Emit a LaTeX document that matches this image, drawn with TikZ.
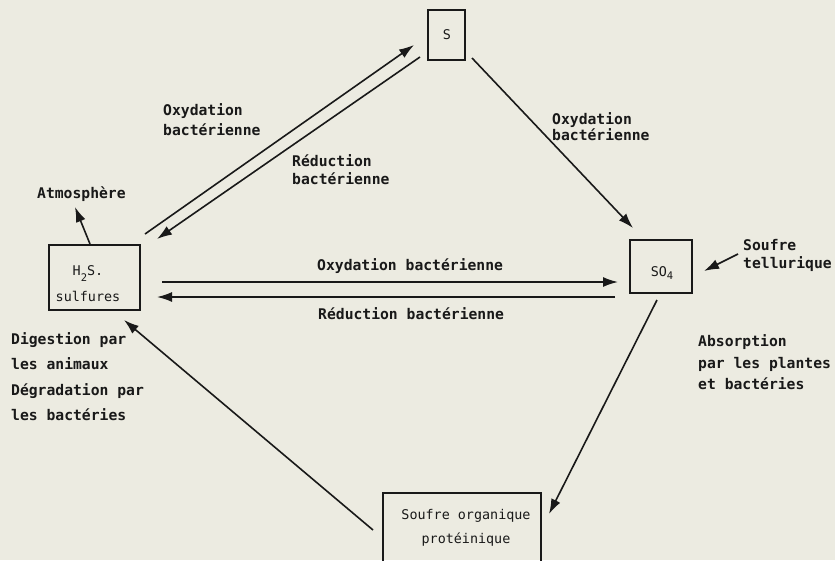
\documentclass[tikz,border=0pt]{standalone}
\usepackage{fontspec}
\usetikzlibrary{arrows.meta}
\newfontfamily\monofont{DejaVu Sans Mono}
\definecolor{paper}{RGB}{236,235,225}
\definecolor{ink}{RGB}{25,25,25}
% lowered small index (H2S, SO4)
\newcommand\lowidx[2][-5pt]{\raisebox{#1}{\fontsize{10.5}{10.5}\selectfont#2}}

\tikzset{
  box/.style={draw=ink, line width=1.9pt, inner sep=0pt},
  boxtext/.style={font=\monofont\fontsize{13.4}{26}\selectfont, text=ink,
    align=center, inner sep=0pt},
  lbl/.style={font=\monofont\bfseries\fontsize{14.7}{#1}\selectfont, text=ink,
    align=left, anchor=west, inner sep=0pt},
  lbl/.default=20,
  arr/.style={draw=ink, line width=1.6pt, -{Latex[length=15pt,width=10pt]}},
}

\begin{document}
\begin{tikzpicture}[x=1pt,y=-1pt]
  \fill[paper] (0,0) rectangle (835,560);
  \useasboundingbox (0,0) rectangle (835,560);
  \clip (0,0) rectangle (835,560);

  % compartments of the sulfur cycle
  \node[box, minimum width=37pt, minimum height=50pt] (s) at (446.5,35) {};
  \node[boxtext] (stxt) at (447,35) {S};

  \node[box, minimum width=91pt, minimum height=65pt] (hs) at (94.5,277.5) {};
  \node[boxtext] (hstxt) at (88,284) {H\lowidx[-6pt]{2}S.\\sulfures};

  \node[box, minimum width=62pt, minimum height=53pt] (so) at (661,266.5) {};
  \node[boxtext] (sotxt) at (662,273) {SO\lowidx[-3pt]{4}};

  \node[box, minimum width=158pt, minimum height=87pt] (org) at (462,536.5) {};
  \node[boxtext, font=\monofont\fontsize{13.4}{24}\selectfont] (orgtxt) at (466,528)
    {Soufre organique\\protéinique};

  % arrow end points
  \coordinate (atmA) at (90,244);   \coordinate (atmB) at (75,207);
  \coordinate (oxA)  at (145,234);  \coordinate (oxB)  at (414,45);
  \coordinate (rdA)  at (420,57);   \coordinate (rdB)  at (157,239);
  \coordinate (osA)  at (472,58);   \coordinate (osB)  at (633,228);
  \coordinate (ohA)  at (162,282);  \coordinate (ohB)  at (618,282);
  \coordinate (rhA)  at (615,297);  \coordinate (rhB)  at (157,297);
  \coordinate (teA)  at (738,254);  \coordinate (teB)  at (704,271);
  \coordinate (abA)  at (657,300);  \coordinate (abB)  at (549,514);
  \coordinate (dgA)  at (373,530);  \coordinate (dgB)  at (124,320);

  \draw[arr] (atmA) -- (atmB);
  \draw[arr] (oxA) -- (oxB);
  \draw[arr] (rdA) -- (rdB);
  \draw[arr] (osA) -- (osB);
  \draw[arr] (ohA) -- (ohB);
  \draw[arr] (rhA) -- (rhB);
  \draw[arr] (teA) -- (teB);
  \draw[arr] (abA) -- (abB);
  \draw[arr] (dgA) -- (dgB);

  % process labels
  \node[lbl] (latm) at (37,194) {Atmosphère};
  \node[lbl=20] (lox1) at (163,120) {Oxydation\\bactérienne};
  \node[lbl=18] (lrd1) at (292,170) {Réduction\\bactérienne};
  \node[lbl=16] (lox2) at (552,126.5) {Oxydation\\bactérienne};
  \node[lbl] (loxh) at (317,266) {Oxydation bactérienne};
  \node[lbl] (lrdh) at (318,314) {Réduction bactérienne};
  \node[lbl=18] (ltel) at (743,255) {Soufre\\tellurique};
  \node[lbl=21.5] (labs) at (698,362.5) {Absorption\\par les plantes\\et bactéries};
  \node[lbl=25.5] (ldig) at (11,376.5)
    {Digestion par\\les animaux\\Dégradation par\\les bactéries};
\end{tikzpicture}
\end{document}
